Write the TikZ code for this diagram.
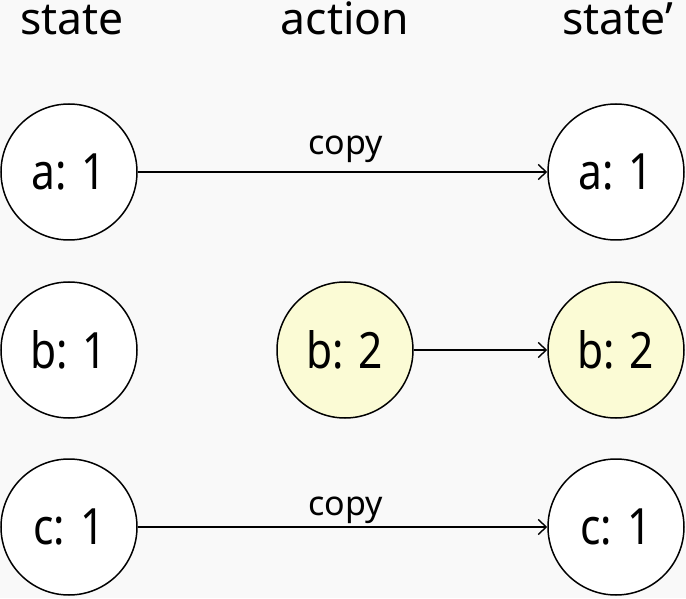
\documentclass[tikz,border=0pt]{standalone}
\usepackage{fontspec}
\setmainfont{Noto Sans}
\newfontfamily\circfont[FakeStretch=0.85]{Noto Sans}
\usetikzlibrary{arrows.meta}
\definecolor{bggray}{RGB}{249,249,249}
\definecolor{newyellow}{RGB}{251,251,213}
\begin{document}
\begin{tikzpicture}[x=1pt,y=1pt,
  var/.style={circle,draw,line width=1.5pt,fill=white,minimum size=136pt,inner sep=0pt,font=\circfont\fontsize{50}{60}\selectfont},
  newvar/.style={var,fill=newyellow},
  head/.style={anchor=base,inner sep=0pt,font=\fontsize{44.5}{52}\selectfont},
  link/.style={-{Straight Barb[length=8pt,width=15pt]},line width=1.4pt},
  lbl/.style={anchor=base,xshift=3pt,inner sep=0pt,font=\fontsize{34}{40}\selectfont}]
\fill[bggray] (0,0) rectangle (686,598);
\useasboundingbox (0,0) rectangle (686,598);
% column heads
\node[head] (hs) at (72,563) {state};
\node[head] (ha) at (345,563) {action};
\node[head,anchor=base west] (hn) at (562,563) {state'};
% old state
\node[var] (a1) at (69,426) {a: 1};
\node[var] (b1) at (69,248) {b: 1};
\node[var] (c1) at (69,71) {c: 1};
% action
\node[newvar] (b2) at (345,248) {b: 2};
% new state
\node[var] (a3) at (616,426) {a: 1};
\node[newvar] (b3) at (616,248) {b: 2};
\node[var] (c3) at (616,71) {c: 1};
\draw[link] (a1) -- node[lbl,yshift=17pt] (ca) {copy} (a3);
\draw[link] (b2) -- (b3);
\draw[link] (c1) -- node[lbl,yshift=12pt] (cc) {copy} (c3);
\end{tikzpicture}
\end{document}
